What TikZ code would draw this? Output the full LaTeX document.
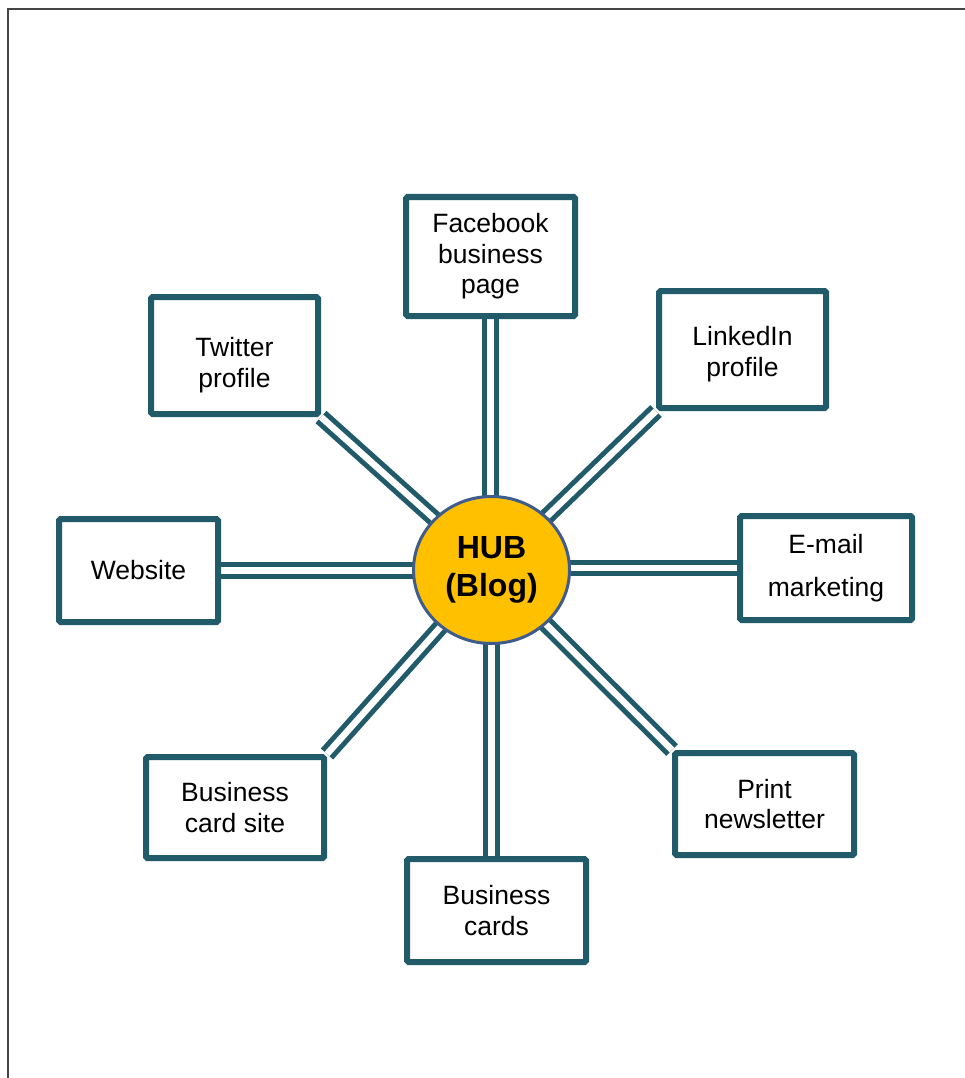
\documentclass[tikz,border=0pt]{standalone}
\usepackage{fontspec}
\setmainfont{Liberation Sans}
\usetikzlibrary{shapes.geometric,backgrounds}
\definecolor{teal}{RGB}{33,90,105}
\definecolor{hubfill}{RGB}{255,192,0}
\definecolor{hubline}{RGB}{62,92,140}
\definecolor{framec}{RGB}{70,70,70}
\tikzset{
  box/.style={draw=teal, line width=6pt, fill=white, rounded corners=1.5pt, align=center,
    font=\fontsize{26.5}{30.5}\selectfont, inner sep=0pt},
  conn/.style={draw=teal, line width=5pt, double=white, double distance=6.5pt},
  hubnode/.style={ellipse, draw=hubline, line width=3pt, fill=hubfill, align=center,
    font=\fontsize{32}{38}\selectfont\bfseries, inner sep=0pt}
}
\begin{document}
\begin{tikzpicture}[x=1pt,y=-1pt]
\useasboundingbox (0,0) rectangle (965,1078);
\draw[framec, line width=2.5pt] (8,1090) -- (8,9) -- (975,9);

\node[hubnode, minimum width=156pt, minimum height=147pt] (hub) at (491.5,570) {HUB\\(Blog)};

\node[box, minimum width=169pt, minimum height=119pt] (fb) at (490.5,256.5) {Facebook\\business\\page};
\node[box, minimum width=167pt, minimum height=117pt] (tw) at (234.5,355.5) {\rule{0pt}{38pt}Twitter\\profile};
\node[box, minimum width=167pt, minimum height=117pt] (ln) at (742.5,349.5) {\rule{0pt}{28pt}LinkedIn\\profile};
\node[box, minimum width=159pt, minimum height=103pt] (web) at (138.5,570.5) {Website};
\node[box, minimum width=172pt, minimum height=104pt] (em) at (826,568) {E-mail\\[12pt]marketing};
\node[box, minimum width=178pt, minimum height=101pt] (bcs) at (235,807.5) {Business\\card site};
\node[box, minimum width=179pt, minimum height=103pt] (bc) at (496.5,910.5) {Business\\cards};
\node[box, minimum width=179pt, minimum height=102pt] (pn) at (764.5,804) {Print\\newsletter};

\begin{scope}[on background layer]
\draw[conn] (fb.south) -- (fb.south |- hub.center);
\draw[conn] (hub.center) -- (hub.center |- bc.north);
\draw[conn] (web.east) -- (web.east -| hub.center);
\draw[conn] (hub.center) -- (hub.center |- em.west) -- (em.west);
\draw[conn] (tw.south east) -- (hub.center);
\draw[conn] (ln.south west) -- (hub.center);
\draw[conn] (bcs.north east) -- (hub.center);
\draw[conn] (pn.north west) -- (hub.center);
\end{scope}
\end{tikzpicture}
\end{document}
